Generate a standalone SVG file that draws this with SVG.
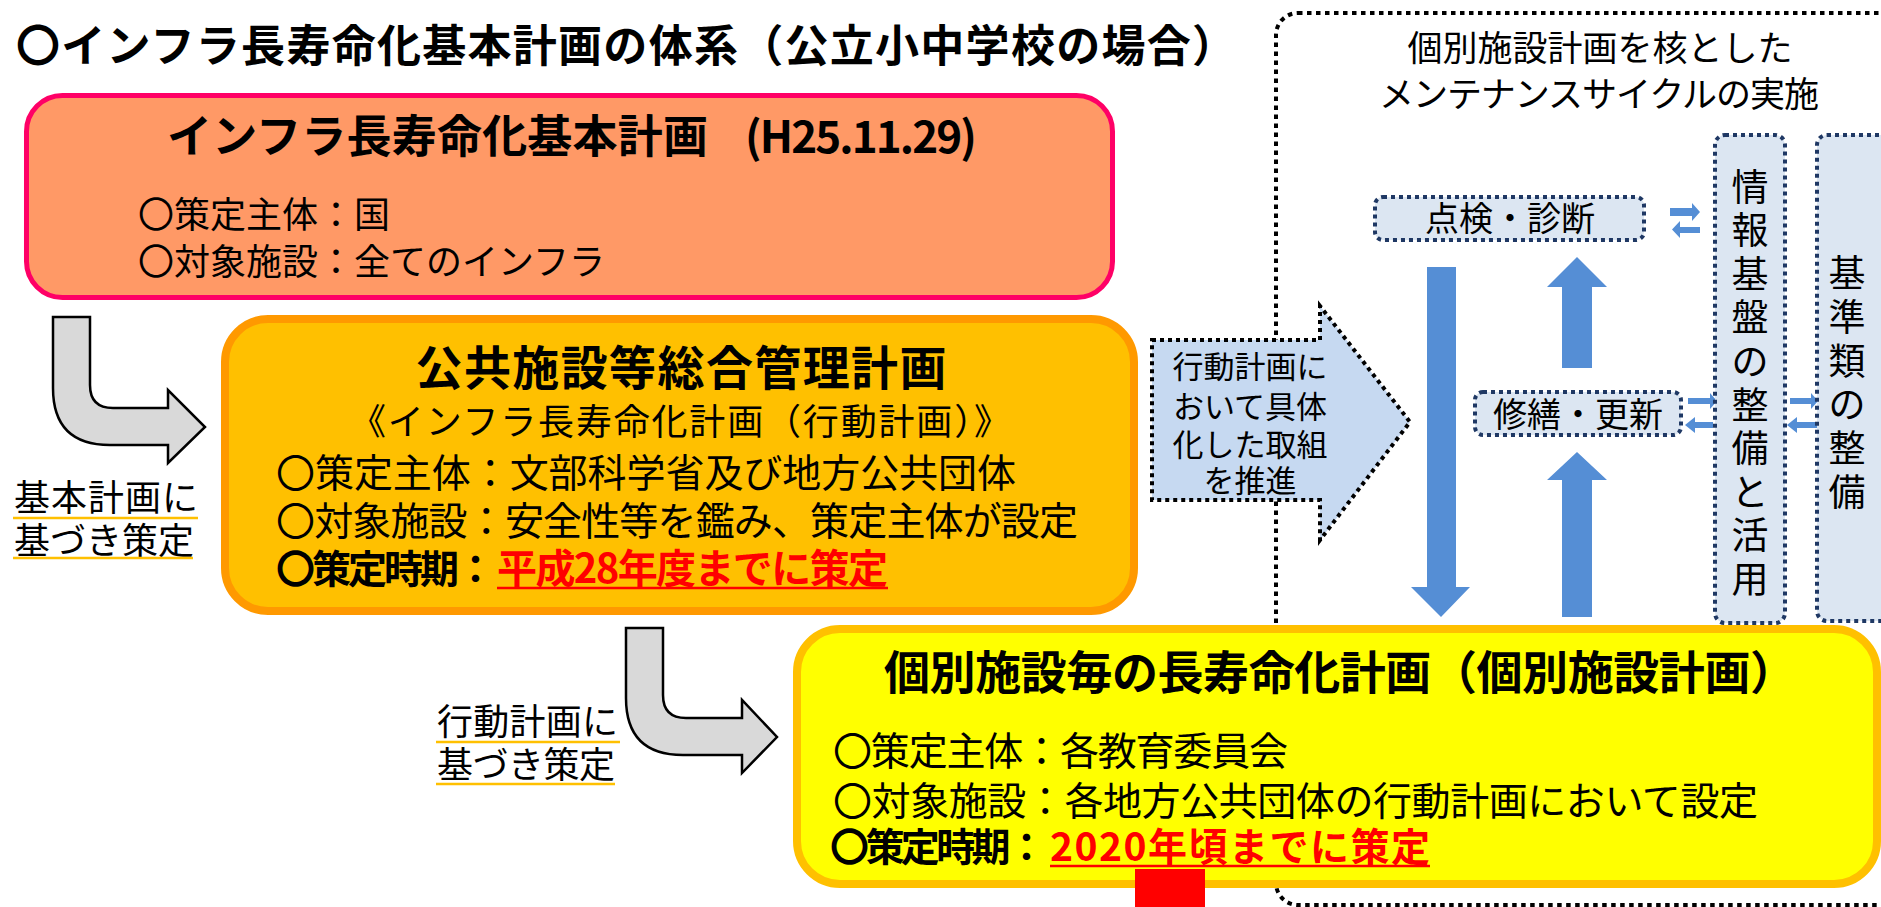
<svg xmlns="http://www.w3.org/2000/svg" width="1881" height="907" viewBox="0 0 1881 907">
  <style>
    text { font-family: 'Noto Sans CJK JP', 'Noto Sans', sans-serif; fill: #000; }
    .b { font-weight: 700; }
    .r { font-weight: 400; }
    .v { font-weight: 400; font-size: 37px; text-anchor: middle; }
    .m { font-weight: 400; font-size: 31px; text-anchor: middle; }
    .red { fill: #FF0000; font-weight: 700; }
    .ul { stroke: #FF0000; stroke-width: 2.5; }
    .gul { stroke: #FFC000; stroke-width: 2.5; }
    .gray { fill: #D9D9D9; stroke: #000; stroke-width: 2.5; stroke-linejoin: miter; }
    .blue { fill: #558ED5; }
    .dotbox { fill: #DCE6F2; stroke: #1F3864; stroke-width: 4; stroke-dasharray: 4 4; }
    .outer { fill: none; stroke: #000; stroke-width: 4; stroke-dasharray: 4.5 4.5; }
  </style>

  <!-- outer dotted region -->
  <rect id="cycle-region" class="outer" x="1276" y="13" width="640" height="892" rx="22"/>

  <text id="title" class="b" x="16" y="62" font-size="44" textLength="1220">〇インフラ長寿命化基本計画の体系（公立小中学校の場合）</text>

  <g id="connectors">
    <path class="gray" d="M53,317 H90 V385 Q90,408 113,408 H168 V390 L205,427 L168,463 V445 H110 Q53,445 53,388 Z"/>
    <path class="gray" d="M626,628 H663 V695 Q663,718 686,718 H742 V700 L777,737 L742,773 V755 H683 Q626,755 626,698 Z"/>
    <path class="blue" d="M1427,267 H1456 V587 H1470 L1441,617 L1411,587 H1427 Z"/>
    <path class="blue" d="M1562,368 V287 H1547 L1577,257 L1607,287 H1592 V368 Z"/>
    <path class="blue" d="M1562,617 V480 H1547 L1577,452 L1607,480 H1592 V617 Z"/>
    <path class="blue" d="M1670,208 H1692 V203 L1700,212 L1692,221 V216 H1670 Z"/>
    <path class="blue" d="M1700,227 H1680 V221 L1672,229.5 L1680,238 V233 H1700 Z"/>
    <path class="blue" d="M1688,398 H1710 V393 L1717,401 L1710,409 V404 H1688 Z"/>
    <path class="blue" d="M1713,422 H1695 V417 L1685,425 L1695,433 V428 H1713 Z"/>
    <path class="blue" d="M1790,398 H1811 V393 L1818,401 L1811,409 V404 H1790 Z"/>
    <path class="blue" d="M1817,422 H1797 V417 L1787,425 L1797,433 V428 H1817 Z"/>
  </g>

  <g id="basic-plan">
    <rect x="26.5" y="95.5" width="1086" height="202" rx="36" fill="#FF9966" stroke="#FF0066" stroke-width="5"/>
    <text class="b" x="167" y="153" font-size="45" textLength="541">インフラ長寿命化基本計画</text>
    <text class="b" x="745" y="153" font-size="44" textLength="232">(H25.11.29)</text>
    <text class="r" x="138" y="228" font-size="36">〇策定主体：国</text>
    <text class="r" x="138" y="275" font-size="36">〇対象施設：全てのインフラ</text>
  </g>

  <g id="label-basic">
    <text class="r" x="14" y="511" font-size="36" textLength="184">基本計画に</text>
    <text class="r" x="14" y="554" font-size="36" textLength="180">基づき策定</text>
    <line class="gul" x1="13" y1="518" x2="198" y2="518"/>
    <line class="gul" x1="13" y1="558" x2="193" y2="558"/>
  </g>

  <g id="action-plan">
    <rect x="225" y="319" width="909" height="292" rx="43" fill="#FFC000" stroke="#FF9900" stroke-width="8"/>
    <text class="b" x="681" y="385" font-size="47" text-anchor="middle" textLength="531">公共施設等総合管理計画</text>
    <text class="r" x="680" y="435" font-size="36" text-anchor="middle" textLength="660">《インフラ長寿命化計画（行動計画）》</text>
    <text class="r" x="276" y="487" font-size="39" textLength="740">〇策定主体：文部科学省及び地方公共団体</text>
    <text class="r" x="276" y="535" font-size="39" textLength="802">〇対象施設：安全性等を鑑み、策定主体が設定</text>
    <text class="b" x="276" y="583" font-size="39" textLength="219">〇策定時期：</text>
    <text class="red" x="497" y="583" font-size="40" textLength="391">平成28年度までに策定</text>
    <line class="ul" x1="497" y1="588" x2="888" y2="588"/>
  </g>

  <g id="label-action">
    <text class="r" x="437" y="735" font-size="36" textLength="181">行動計画に</text>
    <text class="r" x="437" y="778" font-size="36" textLength="178">基づき策定</text>
    <line class="gul" x1="436" y1="742" x2="620" y2="742"/>
    <line class="gul" x1="436" y1="784" x2="615" y2="784"/>
  </g>

  <g id="cycle-title">
    <text class="r" x="1600" y="61" font-size="35" text-anchor="middle">個別施設計画を核とした</text>
    <text class="r" x="1599" y="107" font-size="35" text-anchor="middle" textLength="440">メンテナンスサイクルの実施</text>
  </g>

  <g id="inspection">
    <rect class="dotbox" x="1375" y="197" width="269" height="43" rx="8"/>
    <text class="r" x="1510" y="231" font-size="34" text-anchor="middle">点検・診断</text>
  </g>

  <g id="repair">
    <rect class="dotbox" x="1475" y="392" width="206" height="43" rx="8"/>
    <text class="r" x="1578" y="427" font-size="34" text-anchor="middle">修繕・更新</text>
  </g>

  <g id="info-base">
    <rect class="dotbox" x="1715" y="135" width="70" height="488" rx="10"/>
    <text class="v" x="1750" y="200.5">情</text>
    <text class="v" x="1750" y="244.1">報</text>
    <text class="v" x="1750" y="287.7">基</text>
    <text class="v" x="1750" y="331.3">盤</text>
    <text class="v" x="1750" y="374.9">の</text>
    <text class="v" x="1750" y="418.5">整</text>
    <text class="v" x="1750" y="462.1">備</text>
    <text class="v" x="1750" y="505.7">と</text>
    <text class="v" x="1750" y="549.3">活</text>
    <text class="v" x="1750" y="592.9">用</text>
  </g>

  <g id="standards">
    <rect class="dotbox" x="1817" y="135" width="75" height="486" rx="10"/>
    <text class="v" x="1847" y="287">基</text>
    <text class="v" x="1847" y="330.8">準</text>
    <text class="v" x="1847" y="374.6">類</text>
    <text class="v" x="1847" y="418.4">の</text>
    <text class="v" x="1847" y="462.2">整</text>
    <text class="v" x="1847" y="506">備</text>
  </g>

  <g id="promote-arrow">
    <path d="M1152,340 H1320 V306 L1410,422 L1320,540 V500 H1152 Z" fill="#C6D9F1" stroke="#000" stroke-width="4" stroke-dasharray="4 4"/>
    <text class="m" x="1250" y="378">行動計画に</text>
    <text class="m" x="1250" y="418">おいて具体</text>
    <text class="m" x="1250" y="456">化した取組</text>
    <text class="m" x="1250" y="492">を推進</text>
  </g>

  <g id="facility-plan">
    <rect x="797" y="629" width="1080" height="255" rx="43" fill="#FFFF00" stroke="#FFC000" stroke-width="8"/>
    <text class="b" x="1340" y="689" font-size="46" text-anchor="middle" textLength="912">個別施設毎の長寿命化計画（個別施設計画）</text>
    <text class="r" x="833" y="765" font-size="39" textLength="455">〇策定主体：各教育委員会</text>
    <text class="r" x="833" y="815" font-size="39" textLength="925">〇対象施設：各地方公共団体の行動計画において設定</text>
    <text class="b" x="830" y="861" font-size="39" textLength="216">〇策定時期：</text>
    <text class="red" x="1050" y="861" font-size="39" textLength="380">2020年頃までに策定</text>
    <line class="ul" x1="1050" y1="866" x2="1430" y2="866"/>
  </g>

  <rect x="1135" y="869" width="70" height="38" fill="#FF0000"/>
</svg>
